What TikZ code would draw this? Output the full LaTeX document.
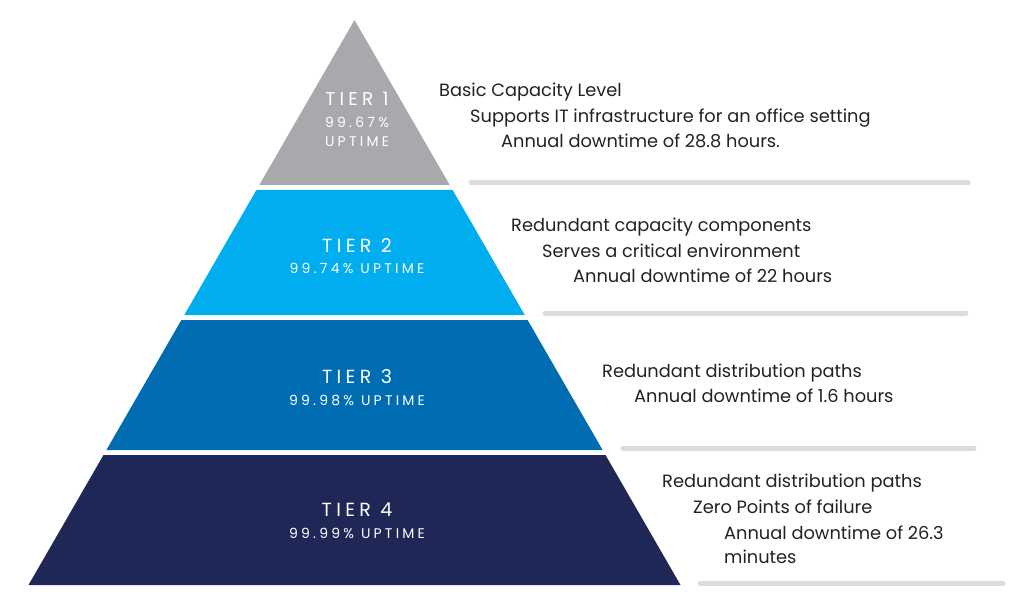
\documentclass[tikz,border=0pt]{standalone}
\usepackage{fontspec}
\setmainfont{Poppins}
\newfontfamily\tierfont[LetterSpace=23]{Poppins}
\usepackage{tikz}
\usetikzlibrary{positioning}
\definecolor{tiergray}{HTML}{A7A9AC}
\definecolor{tiercyan}{HTML}{00AEEF}
\definecolor{tierblue}{HTML}{006DB3}
\definecolor{tiernavy}{HTML}{1E2756}
\definecolor{rulegray}{HTML}{DCDCDC}
\definecolor{desctext}{HTML}{222222}

\begin{document}
\begin{tikzpicture}[x=1pt, y=-1pt,
		desc/.style={anchor=base west, inner sep=0pt, text=desctext, font=\fontsize{17.8}{19}\selectfont},
		tiername/.style={anchor=base, inner sep=0pt, text=white, font=\tierfont\fontsize{19}{21}\selectfont},
		tiersmall/.style={anchor=base, inner sep=0pt, text=white, font=\tierfont\fontsize{18.5}{20}\selectfont},
		uptime/.style={anchor=base, inner sep=0pt, text=white, font=\tierfont\fontsize{14}{16}\selectfont},
		uptimesmall/.style={anchor=base, inner sep=0pt, text=white, font=\tierfont\fontsize{14}{16}\selectfont},
		sep/.style={rulegray, line width=5pt, line cap=round}]
				\useasboundingbox (0,0) rectangle (1024,609);
				
				% pyramid
				\fill[tiergray] (354.5,20) -- (449.7,185) -- (259.3,185) -- cycle;
				\fill[tiercyan] (256.4,190) -- (452.6,190) -- (524.7,315) -- (184.3,315) -- cycle;
				\fill[tierblue] (181.4,320) -- (527.6,320) -- (602.6,450) -- (106.4,450) -- cycle;
				\fill[tiernavy] (103.5,455) -- (605.5,455) -- (680.5,585) -- (28.5,585) -- cycle;
				
				\node[tiersmall] (T1) at (357,106) {TIER 1};
				\node[uptimesmall] (U1a) at (357,128) {99.67\%};
				\node[uptimesmall] (U1b) at (357,147) {UPTIME};
				\node[tiername] (T2) at (357,253) {TIER 2};
				\node[uptime] (U2) at (357,274) {99.74\% UPTIME};
				\node[tiername] (T3) at (357,383) {TIER 3};
				\node[uptime] (U3) at (357,405) {99.98\% UPTIME};
				\node[tiername] (T4) at (357,516) {TIER 4};
				\node[uptime] (U4) at (357,538) {99.99\% UPTIME};
				
				% descriptions
				\node[desc] (D1a) at (439,97) {Basic Capacity Level};
				\node[desc] (D1b) at (470,122.5) {Supports IT infrastructure for an office setting};
				\node[desc] (D1c) at (501,148) {Annual downtime of 28.8 hours.};
				\draw[sep] (471,183) -- (968,183);
				
				\node[desc] (D2a) at (511,232) {Redundant capacity components};
				\node[desc] (D2b) at (542,257.5) {Serves a critical environment};
				\node[desc] (D2c) at (573,283) {Annual downtime of 22 hours};
				\draw[sep] (545,313) -- (966,313);
				
				\node[desc] (D3a) at (602,377) {Redundant distribution paths};
				\node[desc] (D3b) at (634,402) {Annual downtime of 1.6 hours};
				\draw[sep] (623,448) -- (974,448);
				
				\node[desc] (D4a) at (662,487) {Redundant distribution paths};
				\node[desc] (D4b) at (693,513) {Zero Points of failure};
				\node[desc] (D4c) at (724,539) {Annual downtime of 26.3};
				\node[desc] (D4d) at (724,563) {minutes};
				\draw[sep] (700,583) -- (1003,583);
			\end{tikzpicture}
\end{document}
